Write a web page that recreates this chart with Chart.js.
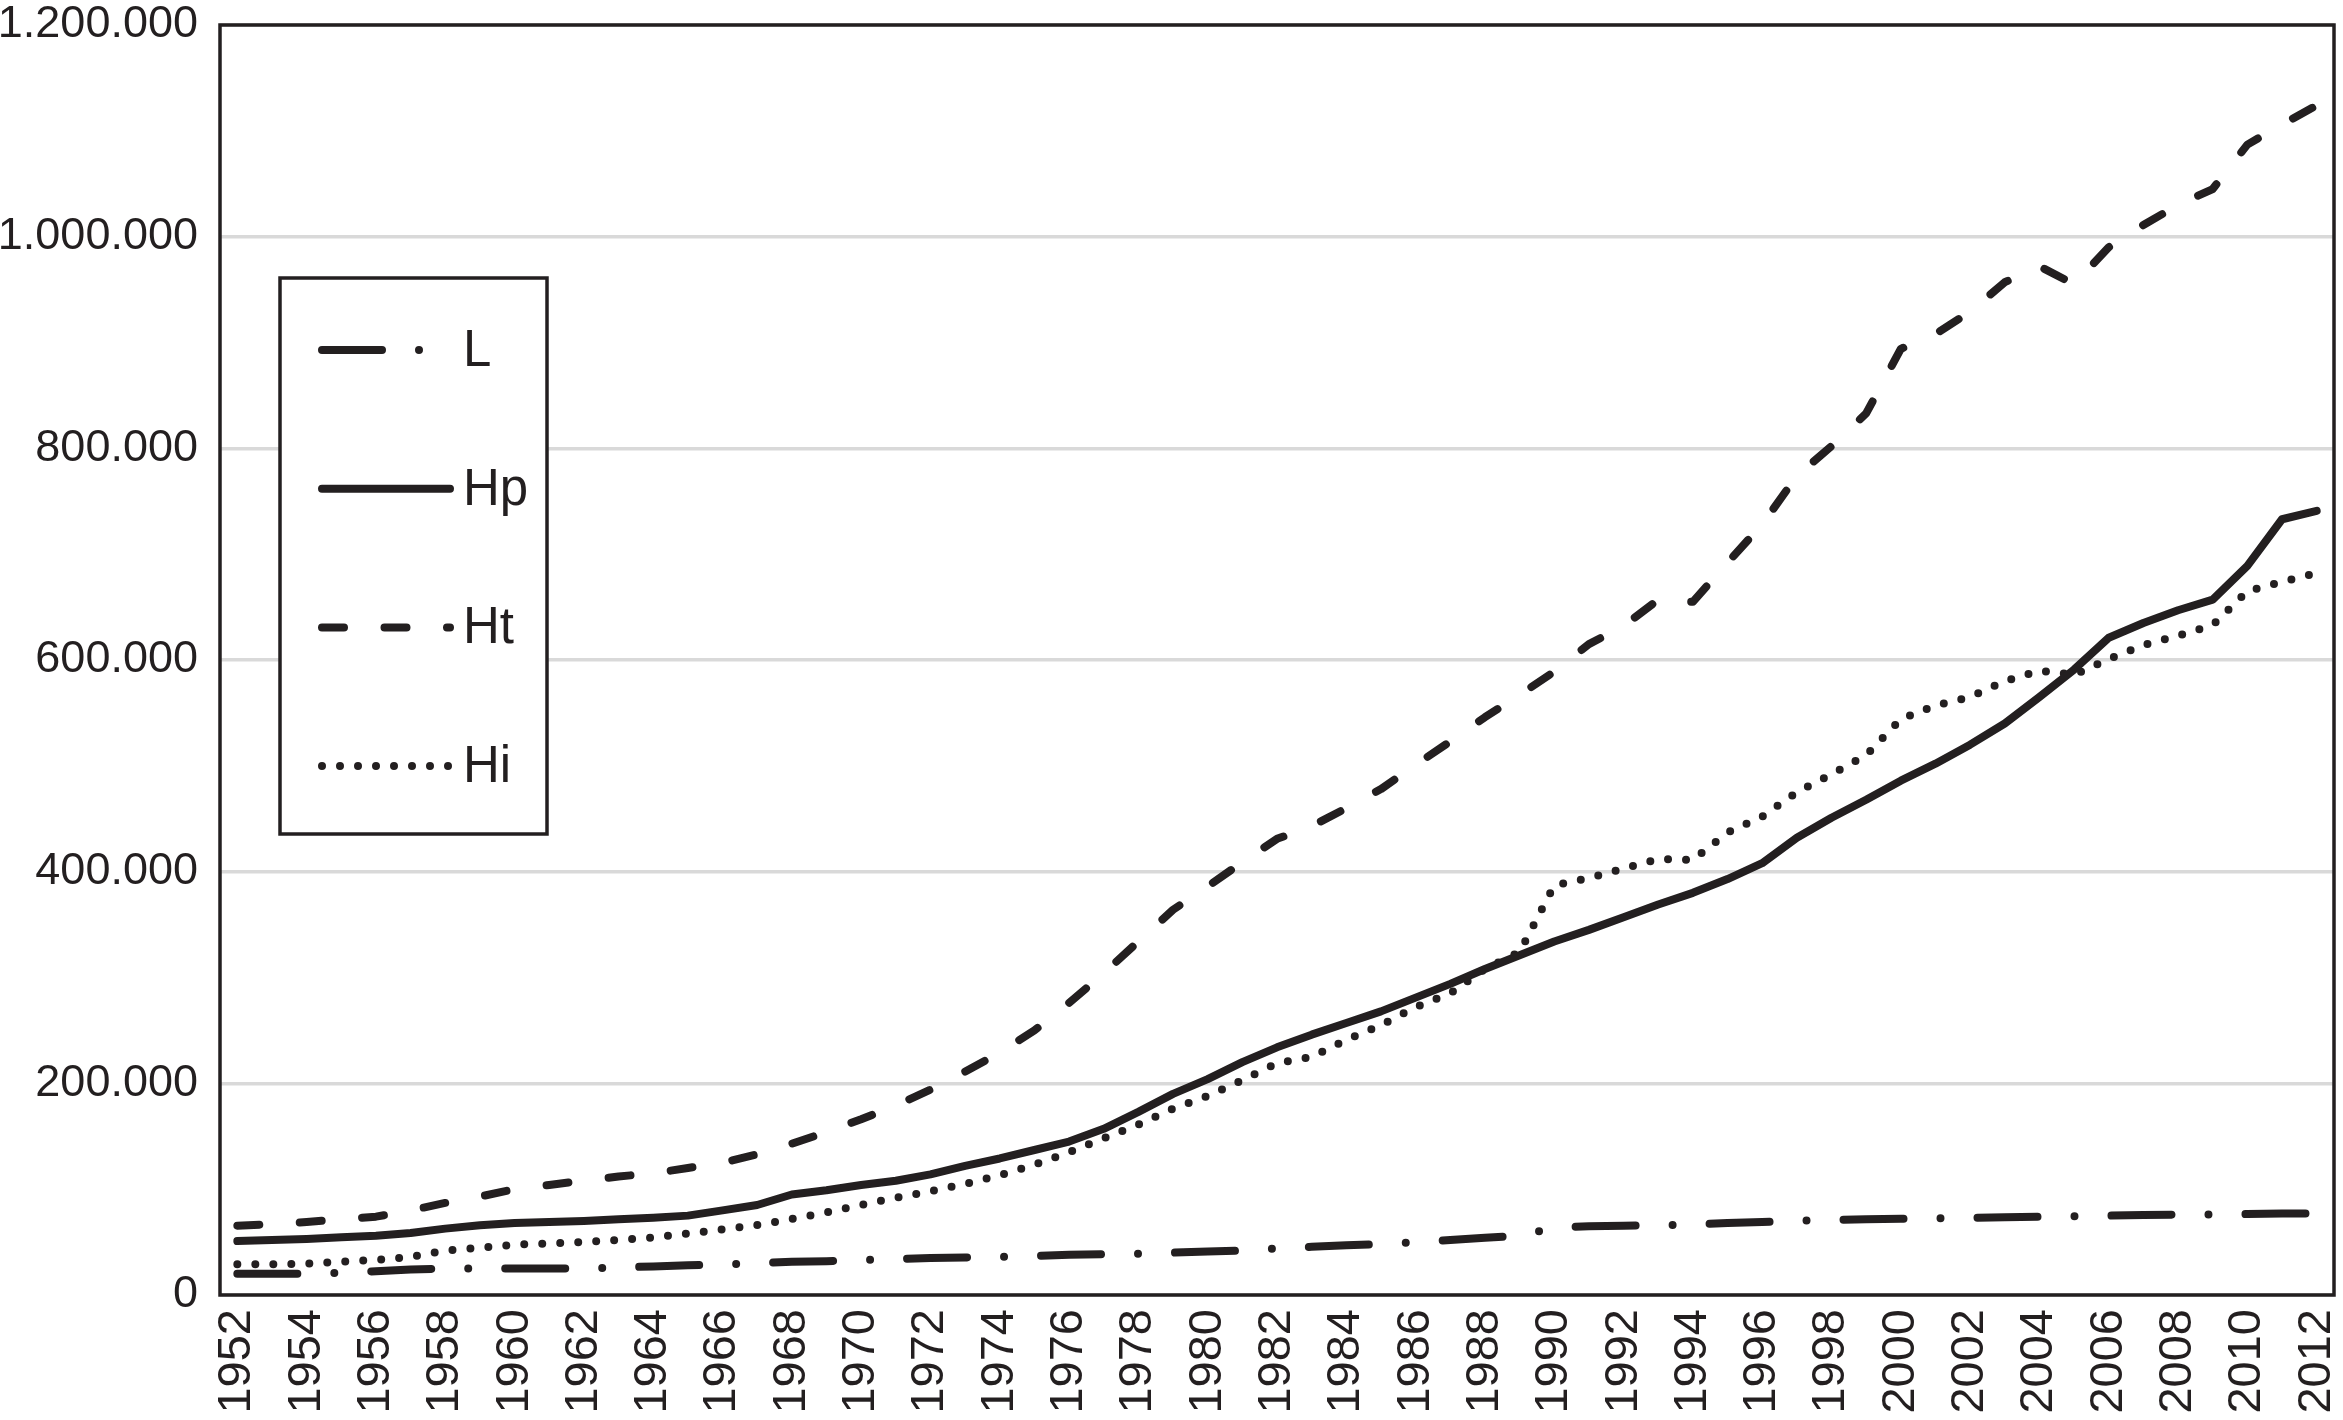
<!DOCTYPE html>
<html>
<head>
<meta charset="utf-8">
<script src="https://cdn.jsdelivr.net/npm/chart.js@4.4.1/dist/chart.umd.min.js"></script>
<style>
  html, body { margin: 0; padding: 0; background: #fff; }
  canvas { display: block; }
</style>
</head>
<body>
<canvas id="myChart" width="2343" height="1420"></canvas>
<script>
var years = [
    '1952', '1953', '1954', '1955', '1956', '1957', '1958', '1959', '1960', '1961',
    '1962', '1963', '1964', '1965', '1966', '1967', '1968', '1969', '1970', '1971',
    '1972', '1973', '1974', '1975', '1976', '1977', '1978', '1979', '1980', '1981',
    '1982', '1983', '1984', '1985', '1986', '1987', '1988', '1989', '1990', '1991',
    '1992', '1993', '1994', '1995', '1996', '1997', '1998', '1999', '2000', '2001',
    '2002', '2003', '2004', '2005', '2006', '2007', '2008', '2009', '2010', '2011',
    '2012'
];

var seriesL = [
    20000, 20000, 20000, 21000, 22500, 24000, 25000, 25000, 25000, 25000,
    25000, 26000, 27000, 28000, 29000, 30000, 31500, 32000, 33000, 34000,
    35000, 35500, 36000, 37000, 38000, 38500, 39000, 40000, 41000, 42000,
    44000, 45500, 47000, 48000, 50000, 52000, 54000, 56000, 63500, 65000,
    65500, 66000, 66500, 68000, 69000, 70000, 71000, 71500, 72000, 72500,
    73000, 73500, 74000, 74500, 75000, 75500, 76000, 76000, 76500, 77000,
    77000
];

var seriesHp = [
    51000, 52000, 53000, 54500, 56000, 58500, 62700, 66000, 68000, 69000,
    70000, 71500, 73000, 75000, 80000, 85000, 95000, 99000, 104000, 108000,
    114000, 122000, 129000, 137000, 145000, 157000, 173000, 190000, 204000, 220000,
    234000, 246000, 257000, 268000, 281000, 294000, 308000, 321000, 334000, 345000,
    357000, 369000, 380000, 393000, 408000, 432000, 451000, 468000, 486000, 502000,
    520000, 540000, 565000, 591000, 621000, 635000, 647000, 657000, 689000, 733000,
    741000
];

var seriesHt = [
    65500, 67000, 69000, 71500, 74000, 80000, 87000, 93000, 100000, 104000,
    108000, 112000, 115000, 120000, 125000, 133000, 143000, 154000, 166000, 179000,
    194000, 211000, 229000, 250000, 276000, 304000, 334000, 364000, 386000, 409000,
    431000, 443000, 460000, 478000, 501000, 523000, 546000, 567000, 589000, 615000,
    632000, 657000, 655000, 692000, 728000, 774000, 802000, 833000, 894000, 908000,
    929000, 957000, 972000, 955000, 990000, 1011000, 1030000, 1045000, 1087000, 1106000,
    1124000
];

var seriesHi = [
    29000, 29000, 29500, 31600, 33000, 36000, 42000, 44600, 47500, 48700,
    50000, 52000, 54400, 58000, 62000, 66000, 72000, 78000, 85000, 92000,
    98000, 105000, 113000, 123000, 135000, 148000, 161000, 176000, 188000, 203000,
    219000, 225000, 241000, 255000, 272000, 285000, 308000, 324000, 387000, 394000,
    403000, 412000, 411000, 437000, 452000, 475000, 492000, 510000, 544000, 557000,
    565000, 580000, 590000, 586000, 601000, 614000, 623000, 633000, 665000, 674000,
    682000
];

var ink = '#231f20';
var fontFamily = '"Liberation Sans", Arial, Helvetica, sans-serif';

function dotted(value) {
    return String(value).replace(/\B(?=(\d{3})+(?!\d))/g, '.');
}

function makeLine(label, data, dash) {
    return {
        label: label,
        data: data,
        borderColor: ink,
        backgroundColor: ink,
        borderWidth: 8,
        borderDash: dash,
        borderCapStyle: 'round',
        borderJoinStyle: 'round',
        pointRadius: 0,
        tension: 0,
        fill: false
    };
}

// frame round the plot area and the boxed key inside it
var frameAndKey = {
    id: 'frameAndKey',
    afterDatasetsDraw: function(chart) {
        var ctx = chart.ctx;
        var a = chart.chartArea;
        ctx.save();
        ctx.strokeStyle = ink;
        ctx.lineWidth = 3.5;
        ctx.setLineDash([]);
        ctx.strokeRect(a.left, a.top, a.right - a.left, a.bottom - a.top);

        var bx = a.left + 60, by = a.top + 253, bw = 267, bh = 556;
        ctx.fillStyle = '#fff';
        ctx.fillRect(bx, by, bw, bh);
        ctx.strokeRect(bx, by, bw, bh);

        ctx.font = '51px ' + fontFamily;
        ctx.textAlign = 'left';
        ctx.textBaseline = 'middle';
        chart.data.datasets.forEach(function(ds, i) {
            var y = by + 72 + i * 138.7;
            ctx.strokeStyle = ds.borderColor;
            ctx.lineWidth = ds.borderWidth;
            ctx.lineCap = 'round';
            ctx.setLineDash(ds.borderDash);
            ctx.beginPath();
            ctx.moveTo(bx + 42, y);
            ctx.lineTo(bx + 170, y);
            ctx.stroke();
            ctx.setLineDash([]);
            ctx.fillStyle = ink;
            ctx.fillText(ds.label, bx + 183, y + 2);
        });
        ctx.restore();
    }
};

var ctx = document.getElementById('myChart').getContext('2d');
var myChart = new Chart(ctx, {
    type: 'line',
    data: {
        labels: years,
        datasets: [
            makeLine('L', seriesL, [60, 37, 0, 37]),
            makeLine('Hp', seriesHp, []),
            makeLine('Ht', seriesHt, [22, 40.5]),
            makeLine('Hi', seriesHi, [0, 18])
        ]
    },
    options: {
        responsive: false,
        animation: false,
        layout: {
            padding: { top: 25, right: 9, left: 0, bottom: 0 }
        },
        plugins: {
            legend: { display: false },
            tooltip: { enabled: false }
        },
        scales: {
            x: {
                offset: true,
                grid: { display: false, drawTicks: false },
                border: { display: false },
                ticks: {
                    autoSkip: false,
                    minRotation: 90,
                    maxRotation: 90,
                    padding: 14,
                    color: ink,
                    font: { family: fontFamily, size: 47 },
                    callback: function(value, index) {
                        return index % 2 === 0 ? years[index] : '';
                    }
                },
                afterFit: function(scale) {
                    scale.height = 125;
                    scale.paddingLeft = 0;
                    scale.paddingRight = 0;
                }
            },
            y: {
                min: 0,
                max: 1200000,
                grid: { color: '#d9d9d9', lineWidth: 3.5, drawTicks: false },
                border: { display: false },
                ticks: {
                    stepSize: 200000,
                    padding: 22,
                    color: ink,
                    font: { family: fontFamily, size: 45 },
                    callback: function(value) {
                        return dotted(value);
                    }
                },
                afterFit: function(scale) {
                    scale.width = 220;
                    scale.paddingTop = 0;
                    scale.paddingBottom = 0;
                }
            }
        }
    },
    plugins: [frameAndKey]
});
</script>
</body>
</html>
